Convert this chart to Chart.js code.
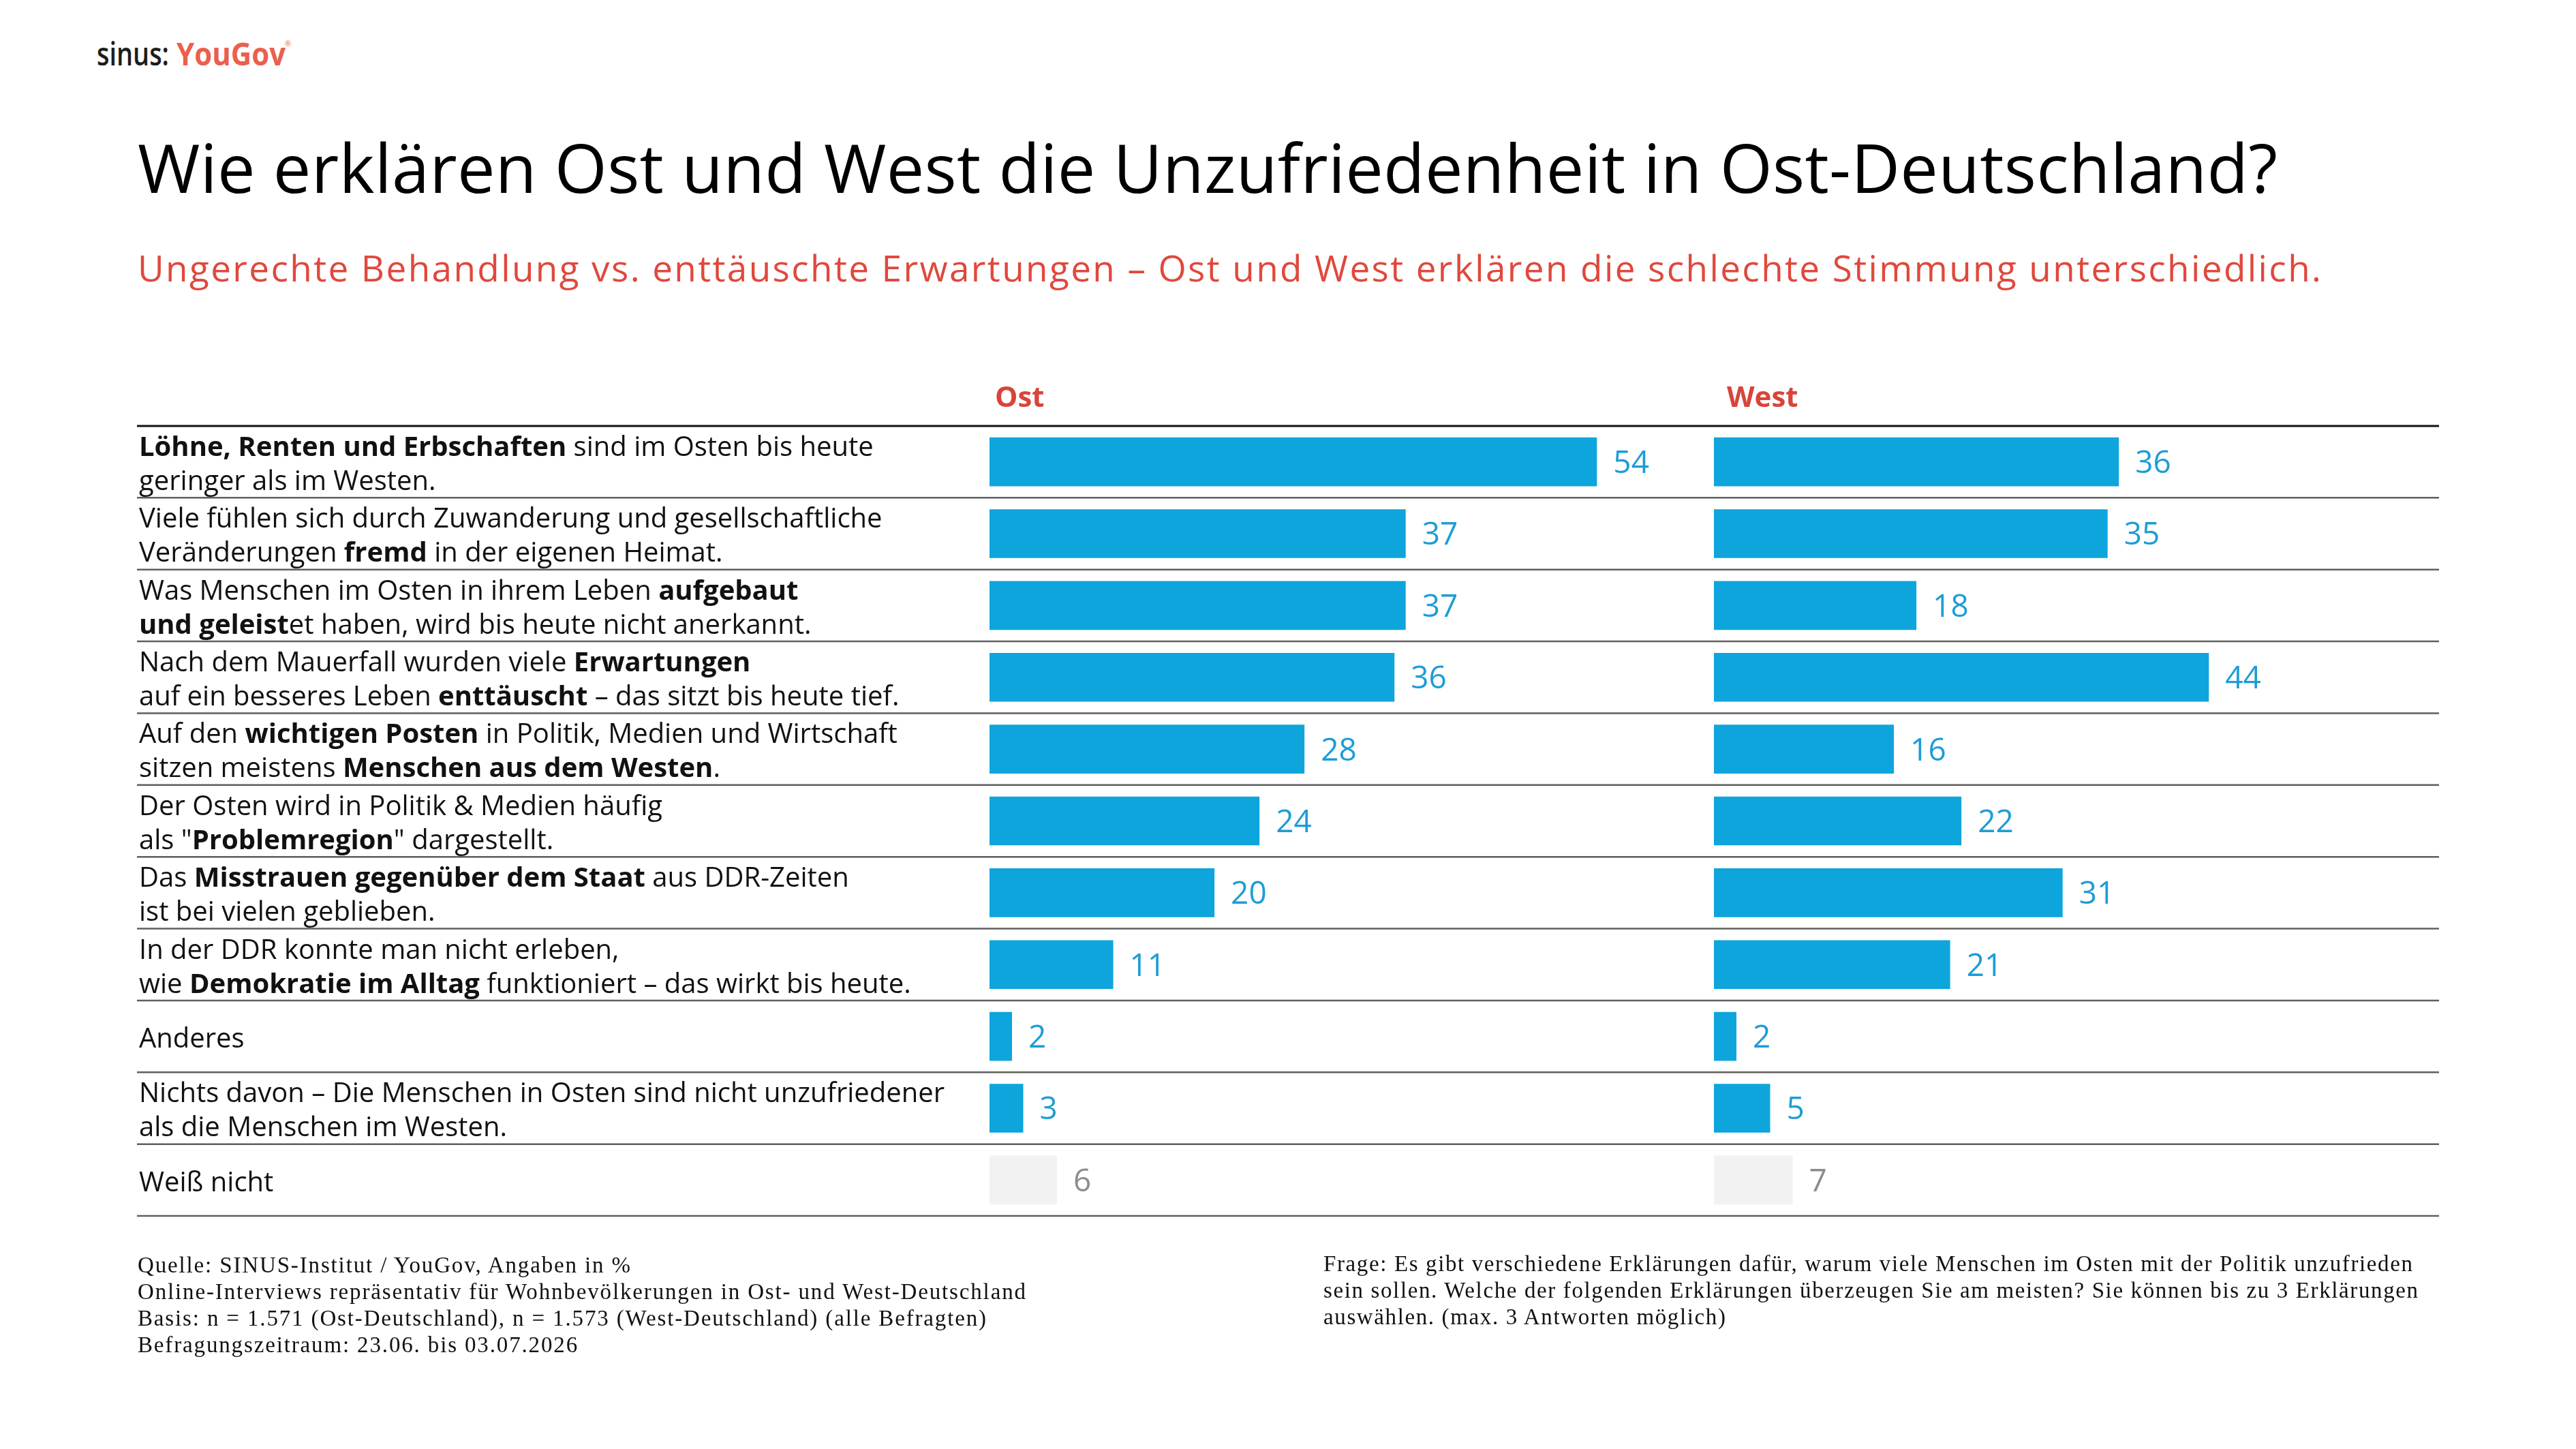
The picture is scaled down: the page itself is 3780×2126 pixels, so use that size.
<!DOCTYPE html>
<html>
<head>
<meta charset="utf-8">
<script src="https://cdn.jsdelivr.net/npm/chart.js@4.4.1/dist/chart.umd.min.js"></script>
<style>
html,body{margin:0;padding:0;background:#fff;}
body{width:3780px;height:2126px;position:relative;overflow:hidden;font-family:"Open Sans",sans-serif;}
.abs{position:absolute;white-space:nowrap;}
.fit{display:inline-block;white-space:nowrap;}
#sinus{left:142px;top:55px;font-size:47px;line-height:47px;font-weight:600;color:#1d1d1b;transform-origin:0 0;}
#yougov{left:259px;top:55px;font-size:47px;line-height:47px;font-weight:700;color:#eb5f4d;transform-origin:0 0;}
#reg{left:418px;top:58px;font-size:11px;line-height:11px;color:#eb5f4d;}
#title{left:202px;top:195px;font-size:99px;line-height:99px;color:#000;}
#subtitle{left:202px;top:366px;font-size:53px;line-height:53px;color:#e0483d;}
.note{font-family:"Liberation Serif",serif;font-size:31px;line-height:39px;color:#111;}
#noteL{left:202px;top:1837px;}
#noteR{left:1942px;top:1835px;}
#chart{position:absolute;left:0;top:0;}
</style>
</head>
<body>
<span id="sinus" class="abs fit">sinus:</span>
<span id="yougov" class="abs fit">YouGov</span>
<span id="reg" class="abs">®</span>
<div id="title" class="abs"><span class="fit" id="titleText">Wie erklären Ost und West die Unzufriedenheit in Ost-Deutschland?</span></div>
<div id="subtitle" class="abs"><span class="fit" id="subText">Ungerechte Behandlung vs. enttäuschte Erwartungen – Ost und West erklären die schlechte Stimmung unterschiedlich.</span></div>
<canvas id="chart" width="3780" height="2126"></canvas>
<div id="noteL" class="abs note"><span>Quelle: SINUS-Institut / YouGov, Angaben in %</span><br><span class="fit" id="noteLRef">Online-Interviews repräsentativ für Wohnbevölkerungen in Ost- und West-Deutschland</span><br><span>Basis: n = 1.571 (Ost-Deutschland), n = 1.573 (West-Deutschland) (alle Befragten)</span><br><span>Befragungszeitraum: 23.06. bis 03.07.2026</span></div>
<div id="noteR" class="abs note"><span class="fit" id="noteRRef">Frage: Es gibt verschiedene Erklärungen dafür, warum viele Menschen im Osten mit der Politik unzufrieden</span><br><span>sein sollen. Welche der folgenden Erklärungen überzeugen Sie am meisten? Sie können bis zu 3 Erklärungen</span><br><span>auswählen. (max. 3 Antworten möglich)</span></div>
<script>
// ---------- DATA ----------
const categories = [
  ['**Löhne, Renten und Erbschaften** sind im Osten bis heute', 'geringer als im Westen.'],
  ['Viele fühlen sich durch Zuwanderung und gesellschaftliche', 'Veränderungen **fremd** in der eigenen Heimat.'],
  ['Was Menschen im Osten in ihrem Leben **aufgebaut**', '**und geleist**et haben, wird bis heute nicht anerkannt.'],
  ['Nach dem Mauerfall wurden viele **Erwartungen**', 'auf ein besseres Leben **enttäuscht** – das sitzt bis heute tief.'],
  ['Auf den **wichtigen Posten** in Politik, Medien und Wirtschaft', 'sitzen meistens **Menschen aus dem Westen**.'],
  ['Der Osten wird in Politik & Medien häufig', 'als "**Problemregion**" dargestellt.'],
  ['Das **Misstrauen gegenüber dem Staat** aus DDR-Zeiten', 'ist bei vielen geblieben.'],
  ['In der DDR konnte man nicht erleben,', 'wie **Demokratie im Alltag** funktioniert – das wirkt bis heute.'],
  ['Anderes'],
  ['Nichts davon – Die Menschen in Osten sind nicht unzufriedener', 'als die Menschen im Westen.'],
  ['Weiß nicht']
];
const seriesNames = ['Ost', 'West'];
const ostValues  = [54, 37, 37, 36, 28, 24, 20, 11, 2, 3, 6];
const westValues = [36, 35, 18, 44, 16, 22, 31, 21, 2, 5, 7];
const mutedCategory = 'Weiß nicht';

// ---------- STYLE ----------
const BLUE = '#0ea5dd';
const BLUE_TEXT = '#1c9dd6';
const MUTED = '#f2f2f2';
const MUTED_TEXT = '#8c8c8c';
const RED = '#d9443a';
const LABEL_X = 204;
const LINE_LEFT = 201;
const LINE_RIGHT = 3579;

// ---------- HTML text fitting ----------
function fitSpacing(el, target) {
  el.style.letterSpacing = '0px';
  const w = el.getBoundingClientRect().width;
  const n = Math.max(1, el.textContent.length - 1);
  el.style.letterSpacing = ((target - w) / n) + 'px';
}
function fitScale(el, target) {
  const w = el.getBoundingClientRect().width;
  el.style.transform = 'scaleX(' + (target / w) + ')';
}
function fitBlock(block, ref, target, minSize, maxSize) {
  block.style.letterSpacing = '0px';
  const base = parseFloat(getComputedStyle(block).fontSize);
  let w = ref.getBoundingClientRect().width;
  const size = Math.max(minSize, Math.min(maxSize, base * target / w));
  block.style.fontSize = size + 'px';
  w = ref.getBoundingClientRect().width;
  block.style.letterSpacing = ((target - w) / (ref.textContent.length - 1)) + 'px';
}
fitScale(document.getElementById('sinus'), 106);
fitScale(document.getElementById('yougov'), 160);
fitSpacing(document.getElementById('titleText'), 3140);
fitSpacing(document.getElementById('subText'), 3204);
fitBlock(document.getElementById('noteL'), document.getElementById('noteLRef'), 1303, 30, 33);
fitBlock(document.getElementById('noteR'), document.getElementById('noteRRef'), 1598, 30, 33);

// ---------- label helpers ----------
function segments(line) {
  return line.split('**').map((t, i) => ({ t, bold: i % 2 === 1 })).filter(s => s.t.length);
}
function labelFont(bold, size) {
  return (bold ? '700 ' : '400 ') + size + 'px "Open Sans", sans-serif';
}
const mctx = document.createElement('canvas').getContext('2d');
function lineWidth(line, size) {
  let w = 0;
  for (const s of segments(line)) { mctx.font = labelFont(s.bold, size); w += mctx.measureText(s.t).width; }
  return w;
}
let LABEL_SIZE = 38 * 1133 / lineWidth(categories[7][1], 38);
LABEL_SIZE = Math.max(33, Math.min(41, LABEL_SIZE));

const tablePlugin = {
  id: 'tablePlugin',
  beforeDatasetsDraw(chart) {
    const ctx = chart.ctx;
    const n = categories.length;
    const top = chart.chartArea.top, bottom = chart.chartArea.bottom;
    const band = (bottom - top) / n;
    ctx.save();
    for (let k = 0; k <= n; k++) {
      const yy = top + k * band;
      ctx.beginPath();
      ctx.strokeStyle = k === 0 ? '#111111' : '#5f5f5f';
      ctx.lineWidth = k === 0 ? 3 : 2.5;
      ctx.moveTo(LINE_LEFT, yy);
      ctx.lineTo(LINE_RIGHT, yy);
      ctx.stroke();
    }
    ctx.restore();
  },
  afterDatasetsDraw(chart) {
    const ctx = chart.ctx;
    const yScale = chart.scales.y;
    ctx.save();
    // headers
    ctx.fillStyle = RED;
    ctx.font = '700 42px "Open Sans", sans-serif';
    ctx.textBaseline = 'alphabetic';
    ctx.textAlign = 'left';
    ctx.fillText(seriesNames[0], chart.scales.x.left + 8, 597);
    ctx.fillText(seriesNames[1], chart.scales.x2.left + 19, 597);
    // category labels
    ctx.fillStyle = '#111111';
    const capH = LABEL_SIZE * 0.714;
    categories.forEach((lines, i) => {
      const cy = yScale.getPixelForValue(i);
      const gap = LABEL_SIZE * 1.25;
      lines.forEach((line, j) => {
        const offset = lines.length === 1 ? 0 : (j === 0 ? -gap / 2 : gap / 2);
        const baseline = cy + offset + capH / 2 + 2;
        let x = LABEL_X;
        for (const s of segments(line)) {
          ctx.font = labelFont(s.bold, LABEL_SIZE);
          ctx.fillText(s.t, x, baseline);
          x += ctx.measureText(s.t).width;
        }
      });
    });
    // value labels
    ctx.font = '400 46px "Open Sans", sans-serif';
    chart.data.datasets.forEach((ds, di) => {
      const meta = chart.getDatasetMeta(di);
      meta.data.forEach((bar, i) => {
        const muted = categories[i][0] === mutedCategory;
        ctx.fillStyle = muted ? MUTED_TEXT : BLUE_TEXT;
        const base = chart.scales[ds.xAxisID].getPixelForValue(0);
        const end = Math.max(bar.x, base);
        ctx.fillText(String(ds.data[i]), end + 24, bar.y + 46 * 0.357);
      });
    });
    ctx.restore();
  }
};

const colorsFor = vals => vals.map((v, i) => categories[i][0] === mutedCategory ? MUTED : BLUE);

new Chart(document.getElementById('chart'), {
  type: 'bar',
  data: {
    labels: categories,
    datasets: [
      { label: seriesNames[0], data: ostValues, xAxisID: 'x', yAxisID: 'y',
        backgroundColor: colorsFor(ostValues), grouped: false, barPercentage: 0.68, categoryPercentage: 1, borderWidth: 0 },
      { label: seriesNames[1], data: westValues, xAxisID: 'x2', yAxisID: 'y',
        backgroundColor: colorsFor(westValues), grouped: false, barPercentage: 0.68, categoryPercentage: 1, borderWidth: 0 }
    ]
  },
  options: {
    indexAxis: 'y',
    responsive: false,
    animation: false,
    devicePixelRatio: 1,
    layout: { padding: { left: 1452, right: 202, top: 625, bottom: 342 } },
    plugins: { legend: { display: false }, tooltip: { enabled: false }, title: { display: false } },
    scales: {
      y: { type: 'category', display: false, offset: true, grid: { display: false } },
      x: { type: 'linear', display: false, min: 0, max: 64.4, stack: 'cols', position: 'bottom', grid: { display: false } },
      x2: { type: 'linear', display: false, min: 0, max: 64.4, stack: 'cols', position: 'bottom', grid: { display: false } }
    }
  },
  plugins: [tablePlugin]
});
</script>
</body>
</html>
